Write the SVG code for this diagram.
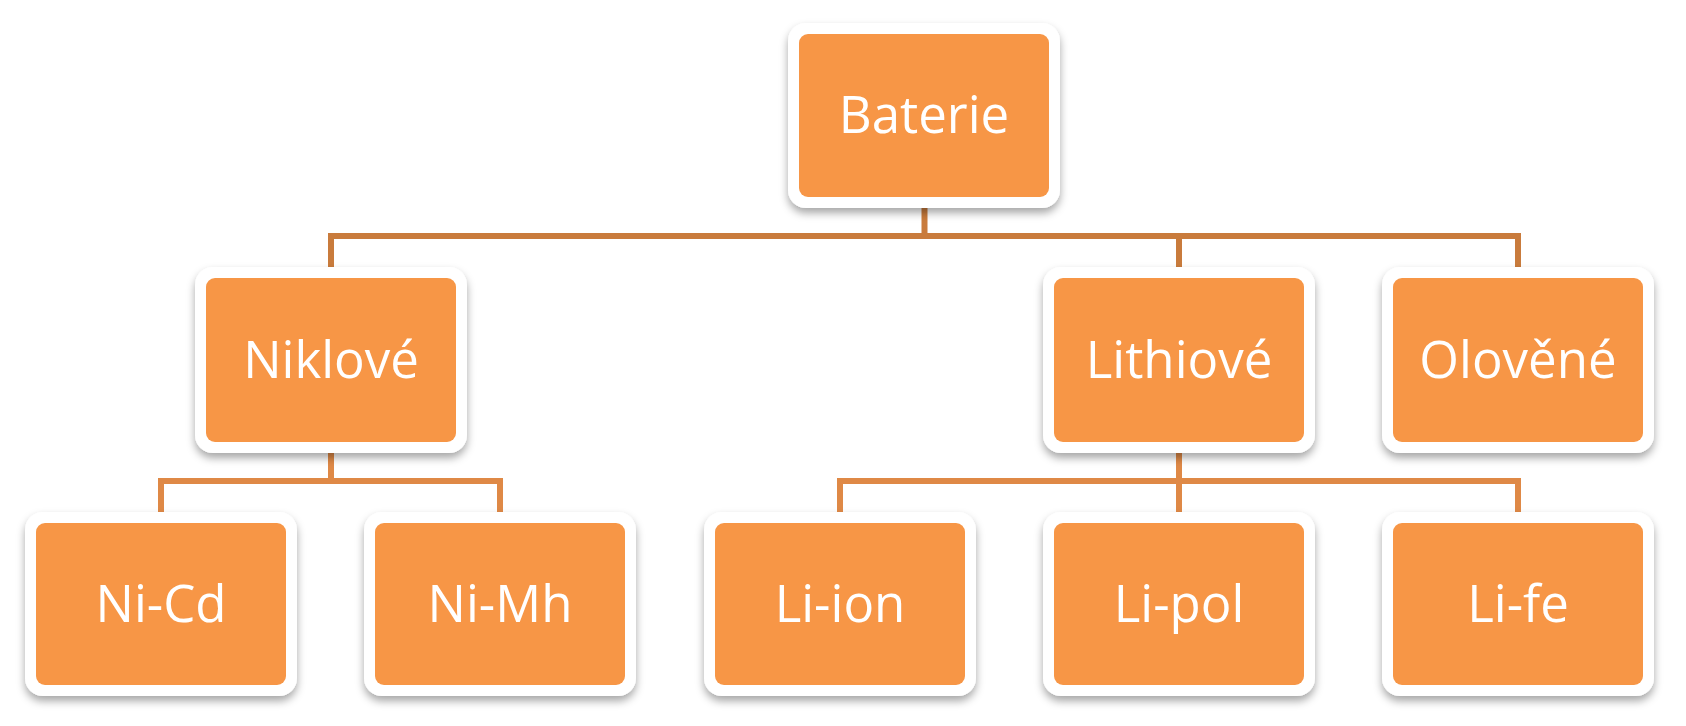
<svg xmlns="http://www.w3.org/2000/svg" width="1686" height="726" viewBox="0 0 1686 726">
  <defs>
    <filter id="sh" x="-10%" y="-10%" width="120%" height="130%">
      <feDropShadow dx="0" dy="5" stdDeviation="4" flood-color="#000" flood-opacity="0.35"/>
    </filter>
    <style>
      .frame { fill: #FFFFFF; filter: url(#sh); }
      .box { fill: #F79646; }
      .lbl { font-family: "Open Sans", "Noto Sans", "Liberation Sans", sans-serif; font-size: 51px; fill: #FFFFFF; text-anchor: middle; }
      .c1 { fill: none; stroke: #C97B3C; stroke-width: 6; stroke-linejoin: miter; }
      .c2 { fill: none; stroke: #DF8946; stroke-width: 6; stroke-linejoin: miter; }
    </style>
  </defs>
  <rect width="1686" height="726" fill="#FFFFFF"/>
  <g id="connectors">
    <path class="c1" d="M924.5 200 V236 M331 267 V236 H1518 V267 M1179 236 V267"/>
    <path class="c2" d="M331 445 V481 M161 512 V481 H500 V512 M1179 445 V512 M840 512 V481 H1518 V512"/>
  </g>
  <g id="node-baterie">
    <rect class="frame" x="788" y="23" width="272" height="185" rx="18"/>
    <rect class="box" x="799" y="34" width="250" height="163" rx="9"/>
    <text class="lbl" x="924" y="133">Baterie</text>
  </g>
  <g id="node-niklove">
    <rect class="frame" x="195" y="267" width="272" height="186" rx="18"/>
    <rect class="box" x="206" y="278" width="250" height="164" rx="9"/>
    <text class="lbl" x="331" y="378">Niklové</text>
  </g>
  <g id="node-lithiove">
    <rect class="frame" x="1043" y="267" width="272" height="186" rx="18"/>
    <rect class="box" x="1054" y="278" width="250" height="164" rx="9"/>
    <text class="lbl" x="1179" y="378">Lithiové</text>
  </g>
  <g id="node-olovene">
    <rect class="frame" x="1382" y="267" width="272" height="186" rx="18"/>
    <rect class="box" x="1393" y="278" width="250" height="164" rx="9"/>
    <text class="lbl" x="1518" y="378">Olověné</text>
  </g>
  <g id="node-nicd">
    <rect class="frame" x="25" y="512" width="272" height="184" rx="18"/>
    <rect class="box" x="36" y="523" width="250" height="162" rx="9"/>
    <text class="lbl" x="161" y="622">Ni-Cd</text>
  </g>
  <g id="node-nimh">
    <rect class="frame" x="364" y="512" width="272" height="184" rx="18"/>
    <rect class="box" x="375" y="523" width="250" height="162" rx="9"/>
    <text class="lbl" x="500" y="622">Ni-Mh</text>
  </g>
  <g id="node-liion">
    <rect class="frame" x="704" y="512" width="272" height="184" rx="18"/>
    <rect class="box" x="715" y="523" width="250" height="162" rx="9"/>
    <text class="lbl" x="840" y="622">Li-ion</text>
  </g>
  <g id="node-lipol">
    <rect class="frame" x="1043" y="512" width="272" height="184" rx="18"/>
    <rect class="box" x="1054" y="523" width="250" height="162" rx="9"/>
    <text class="lbl" x="1179" y="622">Li-pol</text>
  </g>
  <g id="node-life">
    <rect class="frame" x="1382" y="512" width="272" height="184" rx="18"/>
    <rect class="box" x="1393" y="523" width="250" height="162" rx="9"/>
    <text class="lbl" x="1518" y="622">Li-fe</text>
  </g>
</svg>
